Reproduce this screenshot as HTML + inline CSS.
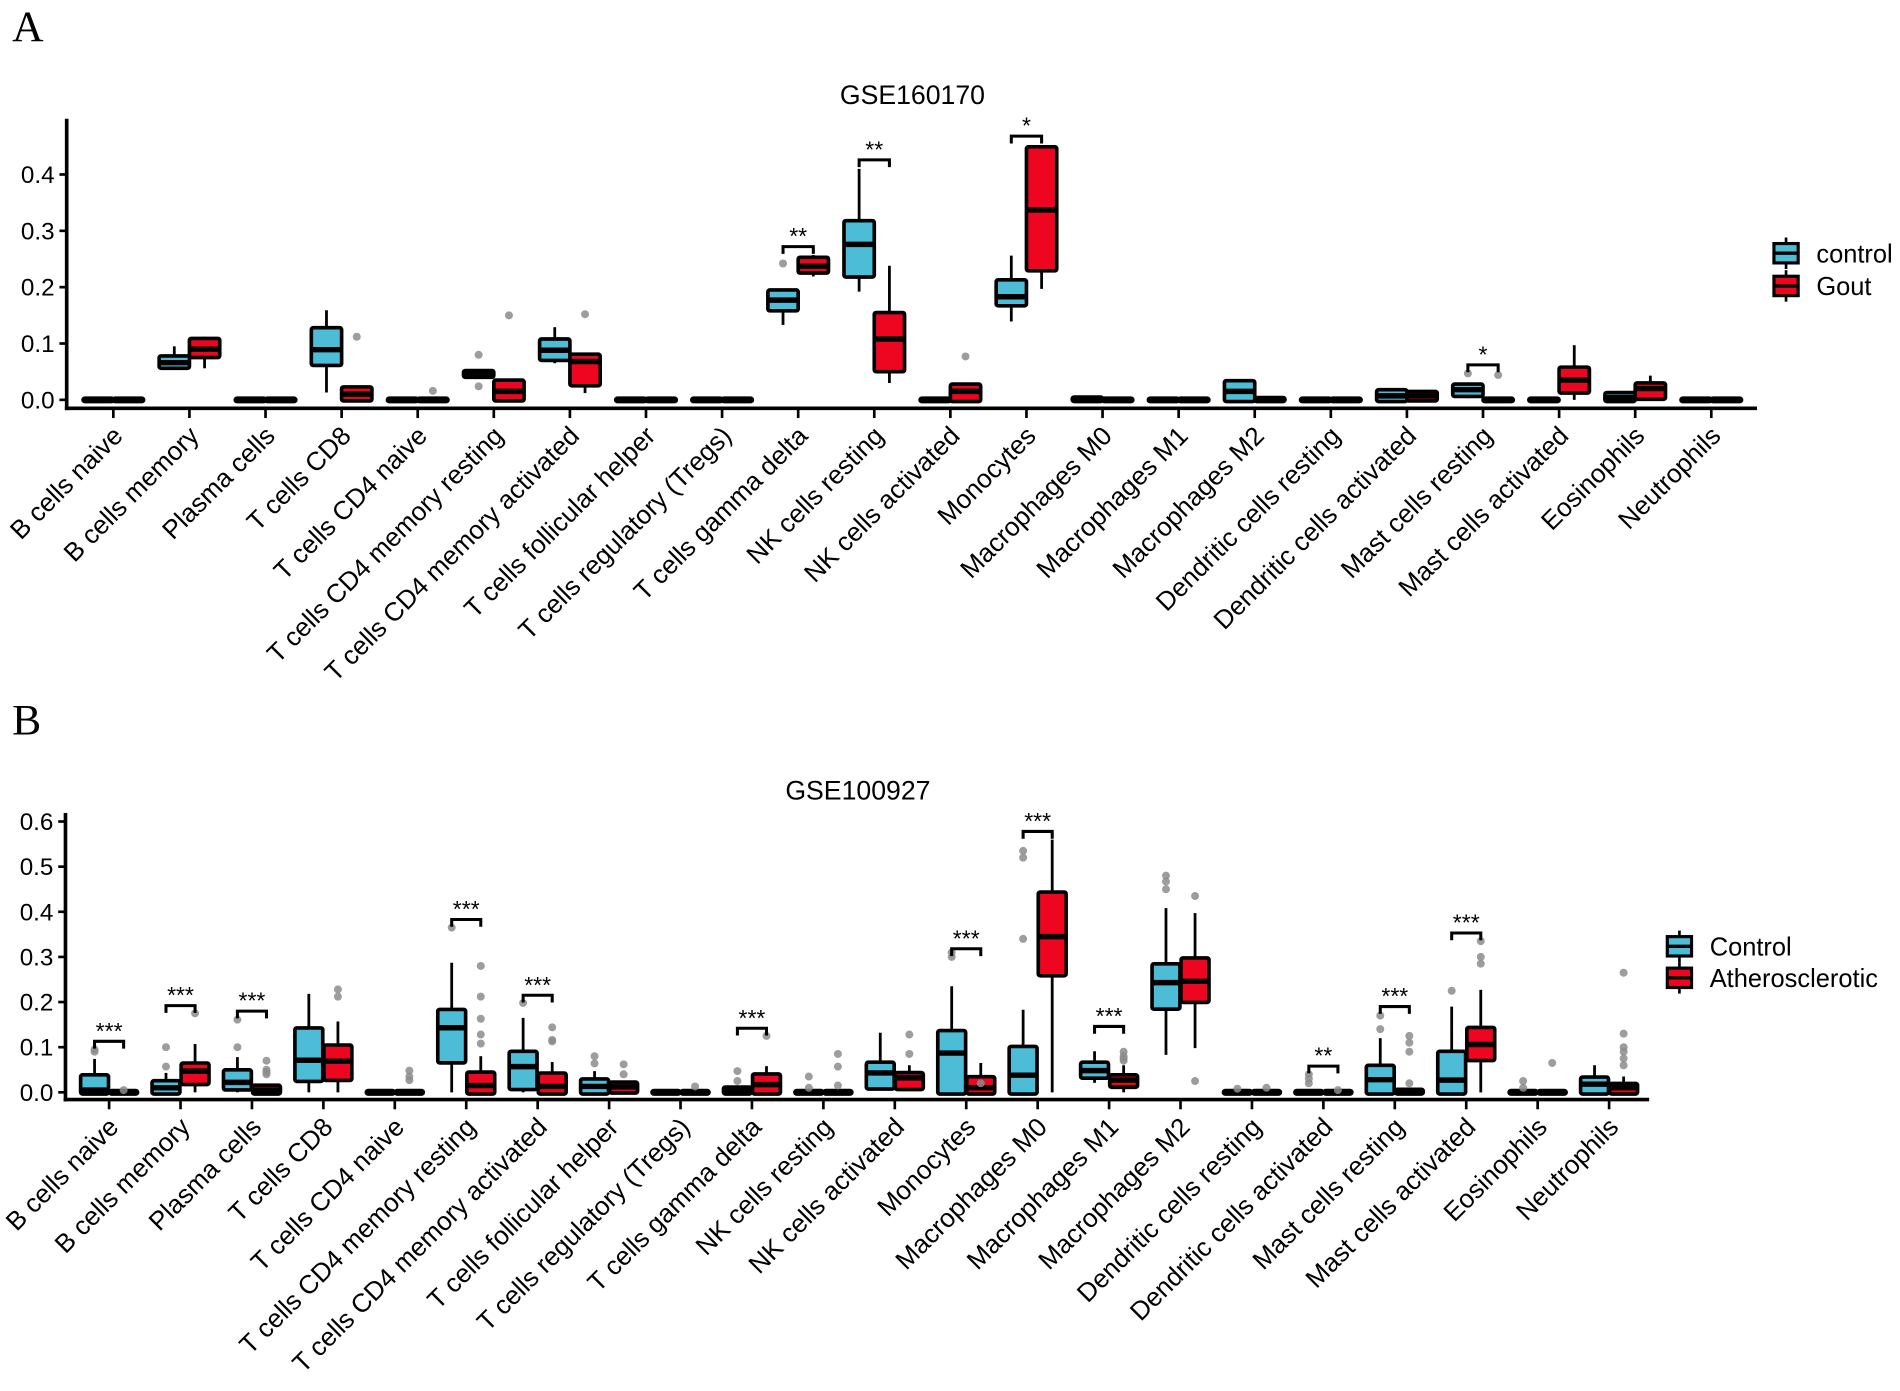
<!DOCTYPE html>
<html><head><meta charset="utf-8"><style>
html,body{margin:0;padding:0;background:#fff;}
svg{display:block;font-family:"Liberation Sans",Arial,sans-serif;}
</style></head><body>
<svg id="fig" xmlns="http://www.w3.org/2000/svg" width="1900" height="1391" viewBox="0 0 1568 1148">
<rect x="0" y="0" width="1568" height="1148" fill="#fff"/>
<text x="10" y="34" font-family="Liberation Serif,serif" font-size="36">A</text>
<text x="10" y="606" font-family="Liberation Serif,serif" font-size="36">B</text>
<text x="753" y="86" text-anchor="middle" font-size="22">GSE160170</text>
<text x="708" y="660" text-anchor="middle" font-size="22">GSE100927</text>
</svg>
<script>
const categories = ["B cells naive","B cells memory","Plasma cells","T cells CD8","T cells CD4 naive","T cells CD4 memory resting","T cells CD4 memory activated","T cells follicular helper","T cells regulatory (Tregs)","T cells gamma delta","NK cells resting","NK cells activated","Monocytes","Macrophages M0","Macrophages M1","Macrophages M2","Dendritic cells resting","Dendritic cells activated","Mast cells resting","Mast cells activated","Eosinophils","Neutrophils"];

// Panel A stats: [low, q1, median, q3, high]
const aControl = [[0,0,0,0,0],[0.058,0.059,0.066,0.075,0.095],[0,0,0,0,0],[0.013,0.064,0.089,0.125,0.159],[0,0,0,0,0],[0.041,0.043,0.045,0.049,0.049],[0.065,0.073,0.088,0.105,0.129],[0,0,0,0,0],[0,0,0,0,0],[0.133,0.161,0.177,0.192,0.195],[0.192,0.221,0.276,0.315,0.41],[0,0,0,0,0],[0.139,0.17,0.183,0.21,0.256],[0,0,0,0.002,0.002],[0,0,0,0,0],[0,0,0.015,0.031,0.034],[0,0,0,0,0],[0,0,0.007,0.015,0.015],[0.003,0.009,0.018,0.025,0.025],[0,0,0,0,0],[0,0,0.004,0.01,0.01],[0,0,0,0,0]];
const aGout = [[0,0,0,0,0],[0.056,0.078,0.09,0.106,0.112],[0,0,0,0,0],[0,0.001,0.01,0.02,0.02],[0,0,0,0,0],[0,0.001,0.015,0.032,0.032],[0.012,0.028,0.068,0.078,0.078],[0,0,0,0,0],[0,0,0,0,0],[0.219,0.228,0.237,0.25,0.257],[0.03,0.053,0.108,0.152,0.238],[0,0,0.015,0.025,0.025],[0.197,0.232,0.337,0.446,0.45],[0,0,0,0,0],[0,0,0,0,0],[0,0,0,0.001,0.001],[0,0,0,0,0],[0,0.001,0.007,0.012,0.012],[0,0,0,0,0],[0,0.015,0.035,0.055,0.097],[0.004,0.004,0.02,0.027,0.043],[0,0,0,0,0]];
const aControlOutliers = [[],[],[],[],[],[0.08,0.024],[],[],[],[0.242],[],[],[],[],[],[],[],[],[0.047],[],[],[]];
const aGoutOutliers = [[],[],[],[0.112],[0.016],[0.15],[0.152],[],[],[],[],[0.077],[],[],[],[],[],[],[0.044],[],[],[]];
const aSigIndex = [9,10,12,18];
const aSigLabel = ["**","**","*","*"];
const aSigValue = [0.272,0.426,0.468,0.062];
const aYTicks = [0,0.1,0.2,0.3,0.4];
const aYTickLabels = ["0.0","0.1","0.2","0.3","0.4"];
const aGroups = ["control","Gout"];

// Panel B stats
const bControl = [[0,0,0.005,0.035,0.074],[0,0,0.01,0.022,0.043],[0,0.009,0.022,0.046,0.078],[0,0.028,0.071,0.139,0.218],[0,0,0,0,0],[0,0.069,0.143,0.18,0.287],[0,0.01,0.057,0.087,0.165],[0,0,0.013,0.026,0.047],[0,0,0,0,0],[0,0,0.003,0.008,0.008],[0,0,0,0,0],[0.011,0.011,0.043,0.063,0.132],[0,0,0.087,0.133,0.235],[0,0,0.038,0.098,0.183],[0.021,0.035,0.048,0.063,0.091],[0.083,0.188,0.243,0.281,0.408],[0,0,0,0,0],[0,0,0,0,0],[0,0,0.028,0.056,0.12],[0,0,0.027,0.087,0.19],[0,0,0,0,0],[0,0,0.018,0.03,0.06]];
const bAth = [[0,0,0,0,0],[0,0.021,0.047,0.061,0.107],[0,0,0.005,0.012,0.012],[0,0.03,0.069,0.101,0.157],[0,0,0,0,0],[0,0,0.015,0.041,0.08],[0,0,0.013,0.039,0.067],[0.002,0.002,0.012,0.019,0.019],[0,0,0,0,0],[0,0,0.017,0.037,0.058],[0,0,0,0,0],[0.01,0.01,0.032,0.04,0.06],[0,0,0.01,0.031,0.065],[0,0.262,0.345,0.44,0.56],[0,0.015,0.027,0.035,0.06],[0.098,0.203,0.246,0.294,0.397],[0,0,0,0,0],[0,0,0,0,0],[0,0,0,0.003,0.003],[0,0.074,0.106,0.14,0.227],[0,0,0,0,0],[0,0,0.01,0.016,0.035]];
const bControlOutliers = [[0.09,0.095],[0.057,0.1],[0.1,0.161],[],[],[0.365],[0.198],[0.08,0.064],[],[0.047,0.025],[0.035,0.01],[],[0.31,0.3],[0.535,0.52,0.34],[],[0.48,0.467,0.45],[0.008],[0.04,0.03,0.02],[0.17,0.14],[0.225],[0.025,0.01],[]];
const bAthOutliers = [[0.005],[0.175],[0.07,0.05,0.045,0.04],[0.212,0.228],[0.048,0.035,0.027],[0.28,0.212,0.163,0.128,0.108],[0.144,0.116,0.113],[0.062,0.04],[0.013],[0.125],[0.085,0.057,0.015],[0.128,0.085],[0.02],[],[0.09,0.08,0.075,0.07],[0.435,0.025],[0.01],[0.005],[0.125,0.11,0.09,0.02],[0.335,0.3,0.285],[0.065],[0.265,0.13,0.1,0.09,0.075,0.06]];
const bSigIndex = [0,1,2,5,6,9,12,13,14,17,18,19];
const bSigLabel = ["***","***","***","***","***","***","***","***","***","**","***","***"];
const bSigValue = [0.113,0.192,0.18,0.383,0.215,0.142,0.318,0.578,0.146,0.058,0.19,0.353];
const bYTicks = [0,0.1,0.2,0.3,0.4,0.5,0.6];
const bYTickLabels = ["0.0","0.1","0.2","0.3","0.4","0.5","0.6"];
const bGroups = ["Control","Atherosclerotic"];

const CYAN = "#4DBCD7", RED = "#EE0620";
const NS = "http://www.w3.org/2000/svg";
const svg = document.getElementById("fig");
function mk(tag, attrs, parent){
  const e = document.createElementNS(NS, tag);
  for (const k in attrs) e.setAttribute(k, attrs[k]);
  (parent||svg).appendChild(e);
  return e;
}

function drawPanel(p, ctrl, grp, ctrlOut, grpOut, sigIdx, sigLab, sigVal, yTicks, yLabels, groups, prefix){
  const g = mk("g", {});
  
  
  const xs = i => p.tick0 + i * p.step;
  const ys = v => p.y0 - v * p.perUnit;
  const ya = mk("line", {x1:p.axisX, y1:p.yTop, x2:p.axisX, y2:p.xAxisY+1.5, stroke:"#000", "stroke-width":3}, g);
  
  
  const xa = mk("line", {x1:p.axisX-1.5, y1:p.xAxisY, x2:p.xEnd, y2:p.xAxisY, stroke:"#000", "stroke-width":3}, g);
  
  
  yTicks.forEach((v, i) => {
    mk("line", {x1:p.axisX-6, y1:ys(v), x2:p.axisX, y2:ys(v), stroke:"#000", "stroke-width":2.2}, g);
    const t = mk("text", {x:p.axisX-10, y:ys(v)+7, "text-anchor":"end", "font-size":20}, g);
    
    
    t.textContent = yLabels[i];
  });
  categories.forEach((c, i) => {
    const x = xs(i);
    mk("line", {x1:x, y1:p.xAxisY, x2:x, y2:p.xAxisY+8, stroke:"#000", "stroke-width":2.2}, g);
    const ax = x + 9, ay = p.xAxisY + 24;
    const t = mk("text", {x:ax, y:ay, "text-anchor":"end", "font-size":21.5, transform:`rotate(-45 ${ax} ${ay})`}, g);
    
    
    t.textContent = c;
  });
  function box(cx, s, color, outs, name){
    const bg = mk("g", {}, g);
    
    
    mk("line", {x1:cx, y1:ys(s[0]), x2:cx, y2:ys(s[4]), stroke:"#000", "stroke-width":2.3}, bg);
    const top = ys(s[3]), bot = ys(s[1]);
    mk("rect", {x:cx-p.boxW/2, y:top-1.4, width:p.boxW, height:Math.max(bot-top,0)+2.8, fill:color, stroke:"#000", "stroke-width":3, rx:1.5}, bg);
    mk("line", {x1:cx-p.boxW/2, y1:ys(s[2]), x2:cx+p.boxW/2, y2:ys(s[2]), stroke:"#000", "stroke-width":4.5}, bg);
    outs.forEach(o => {
      const d = mk("circle", {cx:cx, cy:ys(o), r:3.3, fill:"#8c8c8c", "fill-opacity":0.85}, bg);
      
      
    });
  }
  categories.forEach((c, i) => {
    box(xs(i)-p.off, ctrl[i], CYAN, ctrlOut[i], prefix + '-box-' + groups[0].toLowerCase());
    box(xs(i)+p.off, grp[i], RED, grpOut[i], prefix + '-box-' + groups[1].toLowerCase());
  });
  sigIdx.forEach((idx, k) => {
    const x1 = xs(idx)-p.off, x2 = xs(idx)+p.off, y = ys(sigVal[k]);
    const br = mk("path", {d:`M${x1} ${y+6} L${x1} ${y} L${x2} ${y} L${x2} ${y+6}`, fill:"none", stroke:"#000", "stroke-width":2.5}, g);
    
    
    const t = mk("text", {x:(x1+x2)/2, y:y-2, "text-anchor":"middle", "font-size":19}, g);
    
    
    t.textContent = sigLab[k];
  });
  [CYAN, RED].forEach((col, k) => {
    const cy = p.legY + k * p.legGap;
    const lg = mk("g", {}, g);
    
    
    const kx = p.legX + 10;
    mk("line", {x1:kx, y1:cy-13, x2:kx, y2:cy+13, stroke:"#000", "stroke-width":2.2}, lg);
    mk("rect", {x:p.legX, y:cy-8, width:20, height:16, fill:col, stroke:"#000", "stroke-width":2.6}, lg);
    mk("line", {x1:p.legX, y1:cy, x2:p.legX+20, y2:cy, stroke:"#000", "stroke-width":2.8}, lg);
    const t = mk("text", {x:p.legX+35, y:cy+7.5, "font-size":21}, lg);
    t.textContent = groups[k];
  });
}

drawPanel({axisX:55, yTop:98, xAxisY:337, xEnd:1450, tick0:93.5, step:62.8, y0:330, perUnit:465, off:12.5, boxW:25, legX:1464, legY:209, legGap:27},
  aControl, aGout, aControlOutliers, aGoutOutliers, aSigIndex, aSigLabel, aSigValue, aYTicks, aYTickLabels, aGroups, 'panel-a');
drawPanel({axisX:54, yTop:671, xAxisY:907.5, xEnd:1361, tick0:90, step:58.95, y0:901.5, perUnit:372.5, off:12, boxW:23, legX:1376, legY:781, legGap:26},
  bControl, bAth, bControlOutliers, bAthOutliers, bSigIndex, bSigLabel, bSigValue, bYTicks, bYTickLabels, bGroups, 'panel-b');
</script>
</body></html>
